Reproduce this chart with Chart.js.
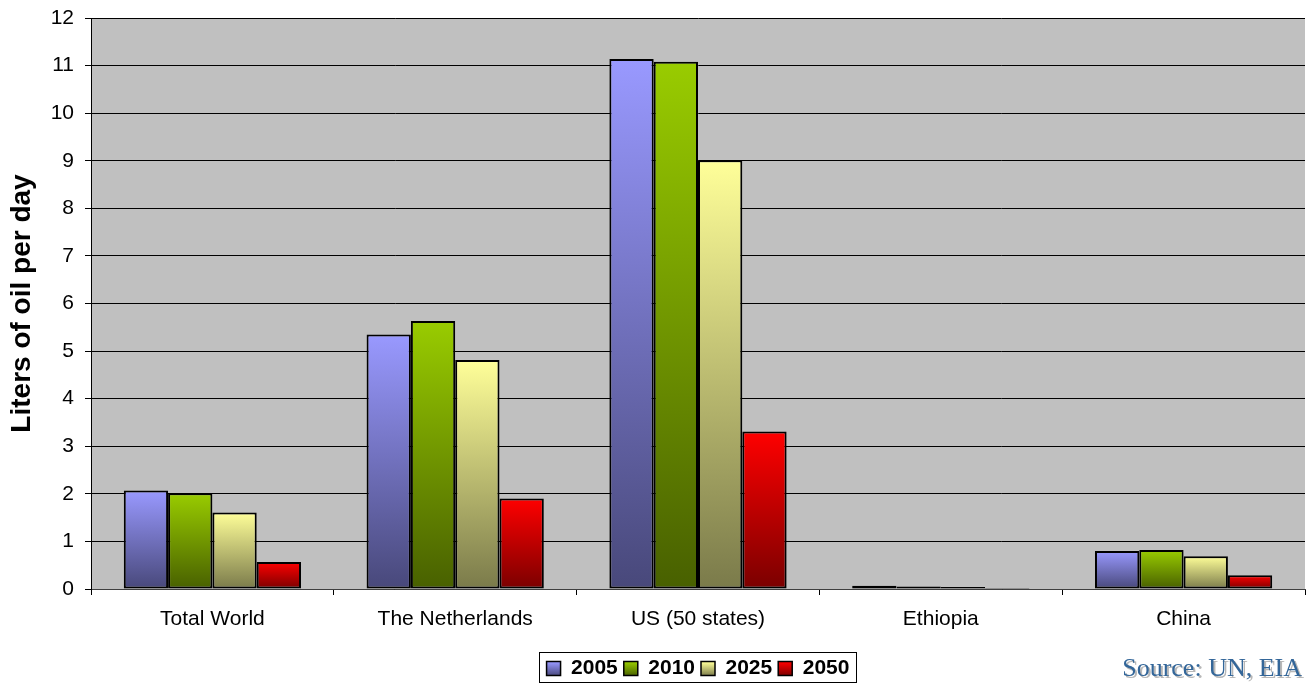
<!DOCTYPE html>
<html>
<head>
<meta charset="utf-8">
<style>
  html, body { margin: 0; padding: 0; background: #fff; }
  #wrap { position: relative; width: 1312px; height: 685px; }
  #source {
    position: absolute; right: 10px; bottom: 2px;
    font-family: "Times New Roman", "Liberation Serif", serif;
    font-size: 26px; color: #336699;
    text-shadow: 2px 2px 0 #b8b8b8;
  }
</style>
</head>
<body>
<div id="wrap">
  <canvas id="myChart" width="1312" height="685"></canvas>
  <div id="source">Source: UN, EIA</div>
</div>

<script src="https://cdn.jsdelivr.net/npm/chart.js"></script>
<script>
  const countries = ['Total World', 'The Netherlands', 'US (50 states)', 'Ethiopia', 'China'];
  const years = ['2005', '2010', '2025', '2050'];

  const oil2005 = [2.07, 5.35, 11.14, 0.07, 0.80];
  const oil2010 = [2.01, 5.63, 11.08, 0.05, 0.82];
  const oil2025 = [1.61, 4.81, 9.01, 0.04, 0.69];
  const oil2050 = [0.57, 1.90, 3.31, 0.02, 0.29];

  // light top colour, dark bottom colour for each year
  const topColors = ['#9999ff', '#99cc00', '#ffff99', '#ff0000'];
  const bottomColors = ['#48487a', '#486000', '#7a7a4a', '#7a0000'];

  const font = 'Arial, "Liberation Sans", sans-serif';

  function barFill(i) {
    return (c) => {
      const chart = c.chart;
      const { ctx, chartArea, scales } = chart;
      if (!chartArea || c.type !== 'data') return topColors[i];
      const yTop = scales.y.getPixelForValue(c.raw);
      const yBase = scales.y.getPixelForValue(0);
      const g = ctx.createLinearGradient(0, yTop, 0, Math.max(yBase, yTop + 1));
      g.addColorStop(0, topColors[i]);
      g.addColorStop(1, bottomColors[i]);
      return g;
    };
  }

  // frame around the legend
  const legendBox = {
    id: 'legendBox',
    afterDraw(chart) {
      const lg = chart.legend;
      if (!lg || !lg.legendHitBoxes.length) return;
      const boxes = lg.legendHitBoxes;
      const x0 = boxes[0].left - 8;
      const last = boxes[boxes.length - 1];
      const x1 = last.left + last.width + 6;
      const y0 = boxes[0].top - 6;
      const y1 = boxes[0].top + boxes[0].height + 3;
      const ctx = chart.ctx;
      ctx.save();
      ctx.strokeStyle = '#000';
      ctx.lineWidth = 1;
      ctx.strokeRect(Math.round(x0) + 0.5, Math.round(y0) + 0.5, Math.round(x1 - x0), Math.round(y1 - y0));
      ctx.restore();
    }
  };

  // grey plot background
  const plotBg = {
    id: 'plotBg',
    beforeDraw(chart) {
      const { ctx, chartArea: a } = chart;
      ctx.save();
      ctx.fillStyle = '#c0c0c0';
      ctx.fillRect(a.left, a.top, a.right - a.left, a.bottom - a.top);
      ctx.restore();
    }
  };

  const series = [oil2005, oil2010, oil2025, oil2050];

  const ctx = document.getElementById('myChart');
  new Chart(ctx, {
    type: 'bar',
    data: {
      labels: countries,
      datasets: series.map((vals, i) => ({
        label: years[i],
        data: vals,
        backgroundColor: barFill(i),
        borderColor: '#000',
        borderWidth: 2,
        borderSkipped: false,
        barPercentage: 1.0,
        categoryPercentage: 0.73
      }))
    },
    options: {
      responsive: false,
      animation: false,
      layout: { padding: { top: 18, right: 7, left: 0, bottom: -4 } },
      scales: {
        x: {
          grid: {
            drawOnChartArea: false,
            drawTicks: true,
            tickLength: 6,
            color: '#000'
          },
          border: { color: '#404040', width: 1 },
          ticks: { color: '#000', font: { family: font, size: 21 }, padding: 12 },
          afterFit(scale) { scale.height = 63; }
        },
        y: {
          min: 0,
          max: 12,
          ticks: {
            stepSize: 1,
            color: '#000',
            font: { family: font, size: 21 },
            padding: 11
          },
          grid: { color: '#000', lineWidth: 1, tickLength: 6 },
          border: { color: '#000', width: 1 },
          title: {
            display: true,
            text: 'Liters of oil per day',
            color: '#000',
            font: { family: font, size: 28, weight: 'bold' },
            padding: { top: 5, bottom: 0 }
          },
          afterFit(scale) {
            scale.width = 91;
            scale.paddingTop = 0;
            scale.paddingBottom = 0;
          }
        }
      },
      plugins: {
        tooltip: { enabled: false },
        legend: {
          position: 'bottom',
          fullSize: false,
          labels: {
            color: '#000',
            font: { family: font, size: 21, weight: 'bold' },
            boxWidth: 14,
            boxHeight: 14,
            padding: 6,
            generateLabels(chart) {
              const c = chart.ctx;
              return years.map((y, i) => {
                const g = c.createLinearGradient(0, 662, 0, 676);
                g.addColorStop(0, topColors[i]);
                g.addColorStop(1, bottomColors[i]);
                return {
                  text: y,
                  fillStyle: g,
                  strokeStyle: '#000',
                  lineWidth: 1.5,
                  fontColor: '#000',
                  datasetIndex: i
                };
              });
            }
          }
        }
      }
    },
    plugins: [plotBg, legendBox]
  });
</script>
</body>
</html>
